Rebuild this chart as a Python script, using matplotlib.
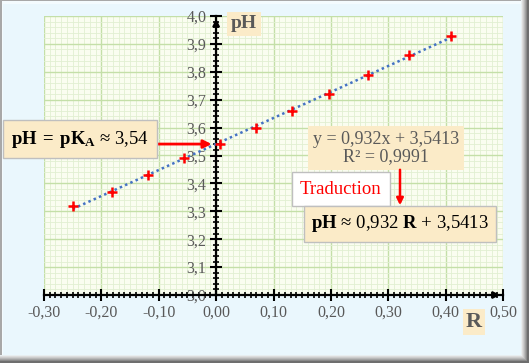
import matplotlib
matplotlib.use("Agg")
import matplotlib.pyplot as plt
from matplotlib.patches import Rectangle, FancyArrowPatch
from matplotlib.ticker import MultipleLocator, FuncFormatter
import numpy as np

plt.rcParams['font.family'] = ['Liberation Serif', 'DejaVu Serif']
plt.rcParams['mathtext.fontset'] = 'custom'
plt.rcParams['mathtext.rm'] = 'Liberation Serif'
plt.rcParams['mathtext.bf'] = 'Liberation Serif:bold'
plt.rcParams['mathtext.it'] = 'Liberation Serif:italic'

# Data
R_values = [-0.25, -0.182, -0.119, -0.056, 0.007, 0.070, 0.133, 0.197, 0.265, 0.336, 0.409]
pH_values = [3.32, 3.37, 3.43, 3.49, 3.54, 3.60, 3.66, 3.72, 3.79, 3.86, 3.93]
slope, intercept = 0.932, 3.5413
x_ticks = [-0.30, -0.20, -0.10, 0.00, 0.10, 0.20, 0.30, 0.40, 0.50]
y_ticks = [3.0, 3.1, 3.2, 3.3, 3.4, 3.5, 3.6, 3.7, 3.8, 3.9, 4.0]

W, H = 529, 363
fig = plt.figure(figsize=(W / 100, H / 100), dpi=100)
fig.patch.set_facecolor('#EAF7FD')

def fr(x0, y0, x1, y1, color, z=0):
    fig.patches.append(Rectangle((x0 / W, 1 - y1 / H), (x1 - x0) / W, (y1 - y0) / H,
                                 transform=fig.transFigure, facecolor=color,
                                 edgecolor='none', zorder=z))

# frame / shadow
shades = ['#6E6E6E', '#8A8A8A', '#A2A2A2', '#B8B8B8', '#CCCCCC', '#DCDCDC', '#E8EEF0']
fr(0, 0, W, H, '#6E6E6E', -10)
for i, c in enumerate(shades):
    fr(0, 0, W - i - 1, H - i - 1, c, -9 + i * 0.1)
fr(0, 0, W - 8, H - 8, '#A8A8A8', -8)
fr(2, 1, W - 8, H - 8, '#F4FBFE', -7.9)
fr(3, 4, W - 8, H - 8, '#EAF7FD', -7.8)

ax = fig.add_axes([44 / W, 1 - 295 / H, (503 - 44) / W, (295 - 16) / H])
ax.set_facecolor('#FAFDF0')
ax.set_xlim(-0.30, 0.50)
ax.set_ylim(3.0, 4.0)

# millimetric grid
for xv in np.arange(-0.30, 0.5001, 0.01):
    major = abs(round(xv * 10) - xv * 10) < 1e-6
    ax.axvline(xv, color='#C4DFA8' if major else '#E1EFD2', lw=1.0 if major else 0.6, zorder=0)
for yv in np.arange(3.0, 4.0001, 0.02):
    major = abs(round(yv * 10) - yv * 10) < 1e-6
    ax.axhline(yv, color='#C4DFA8' if major else '#E1EFD2', lw=1.0 if major else 0.6, zorder=0)

for s in ['top', 'right']:
    ax.spines[s].set_visible(False)
ax.spines['left'].set_position(('data', 0.0))
ax.spines['bottom'].set_position(('data', 3.0))
ax.spines['left'].set_linewidth(1.6)
ax.spines['bottom'].set_linewidth(1.6)
ax.spines['left'].set_zorder(3)
ax.spines['bottom'].set_zorder(3)

ax.set_xticks(x_ticks)
ax.set_yticks(y_ticks)
ax.xaxis.set_minor_locator(MultipleLocator(0.01))
ax.yaxis.set_minor_locator(MultipleLocator(0.02))
ax.xaxis.set_major_formatter(FuncFormatter(lambda v, p: f"{v:.2f}".replace('.', ',').replace('-0,00', '0,00')))
ax.yaxis.set_major_formatter(FuncFormatter(lambda v, p: f"{v:.1f}".replace('.', ',')))
ax.tick_params(which='major', direction='inout', length=8, width=1.5, color='black',
               labelsize=11.5, labelcolor='#595959', pad=3)
ax.tick_params(which='minor', direction='inout', length=5, width=1.2, color='black')

# axis arrows
ax.annotate('', xy=(0.0, 4.0), xytext=(0.0, 3.95),
            arrowprops=dict(arrowstyle='-|>', color='black', lw=1.5, mutation_scale=10),
            annotation_clip=False, zorder=4)
ax.annotate('', xy=(0.50, 3.0), xytext=(0.47, 3.0),
            arrowprops=dict(arrowstyle='-|>', color='black', lw=1.5, mutation_scale=10),
            annotation_clip=False, zorder=4)

# trend line
xl = np.array([min(R_values), max(R_values)])
ax.plot(xl, slope * xl + intercept, linestyle=(0, (1, 1.3)), color='#4472C4', lw=1.8, zorder=4)
ax.scatter(R_values, pH_values, marker='+', s=60, color='red', linewidths=1.8, zorder=5)

# pH = pKa box
fig.text(80 / W, 1 - 139 / H, r"$\mathbf{pH\;=\;pK_A}$ ≈ 3,54", fontsize=13.5,
         ha='center', va='center', color='black',
         bbox=dict(boxstyle='square,pad=0.45', facecolor='#FBEBC8', edgecolor='#BFBFBF', lw=1))
ax.annotate('', xy=(-0.003, 3.541), xytext=(-0.113, 3.541),
            arrowprops=dict(arrowstyle='-|>', color='red', lw=2, mutation_scale=12), zorder=6)

# equation box
fig.text(386 / W, 1 - 148 / H, "y = 0,932x + 3,5413\nR² = 0,9991", fontsize=13,
         ha='center', va='center', color='#595959', linespacing=1.0,
         multialignment='center',
         bbox=dict(boxstyle='square,pad=0.25', facecolor='#FBEBC8', edgecolor='none'))

# Traduction box
fig.text(341 / W, 1 - 189 / H, "Traduction", fontsize=13.5, ha='center', va='center',
         color='red', bbox=dict(boxstyle='square,pad=0.45', facecolor='white',
                                edgecolor='#BFBFBF', lw=1))
fig.patches.append(FancyArrowPatch(
    (400 / W, 1 - 167 / H), (400 / W, 1 - 208 / H), transform=fig.transFigure,
    arrowstyle='-|>', color='red', lw=1.8, mutation_scale=10, zorder=6))

# final box
fig.text(400 / W, 1 - 224 / H, r"$\mathbf{pH}$ ≈ 0,932 $\mathbf{R}$ + 3,5413", fontsize=13.5,
         ha='center', va='center', color='black',
         bbox=dict(boxstyle='square,pad=0.4', facecolor='#FBEBC8', edgecolor='#BFBFBF', lw=1))

# axis labels
fig.text(244 / W, 1 - 24 / H, "pH", fontsize=14, fontweight='bold', color='#595959',
         ha='center', va='center',
         bbox=dict(boxstyle='square,pad=0.2', facecolor='#FBEBC8', edgecolor='none'))
fig.text(474 / W, 1 - 322 / H, "R", fontsize=16, fontweight='bold', color='#595959',
         ha='center', va='center',
         bbox=dict(boxstyle='square,pad=0.12', facecolor='#FBEBC8', edgecolor='none'))

fig.savefig('out.png', dpi=100, facecolor=fig.get_facecolor())
